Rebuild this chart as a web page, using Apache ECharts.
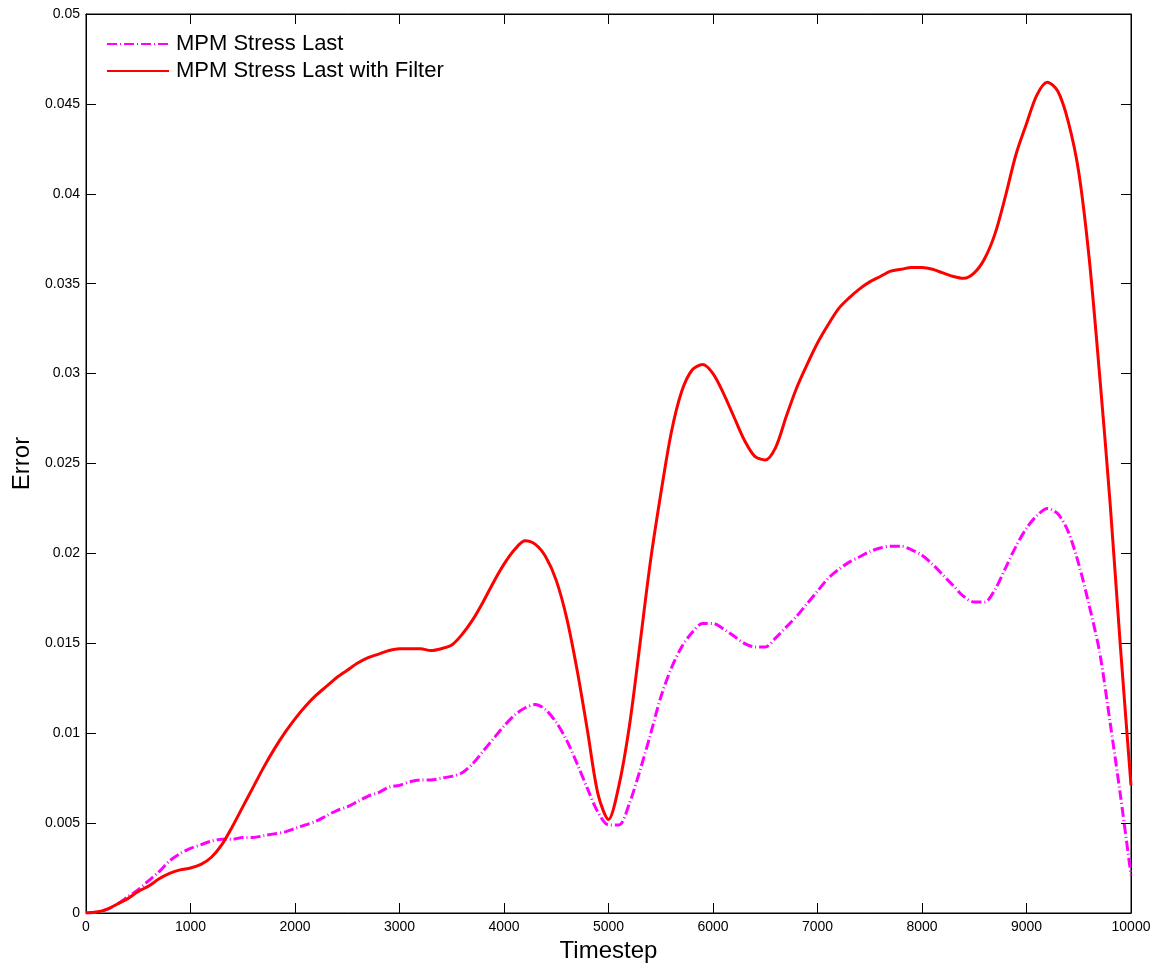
<!DOCTYPE html>
<html>
<head>
<meta charset="utf-8">
<script src="https://cdn.jsdelivr.net/npm/echarts@6/dist/echarts.min.js"></script>
<style>
html,body{margin:0;padding:0;background:#fff;}
#chart{width:1158px;height:968px;}
</style>
</head>
<body>
<div id="chart"></div>
<script>
const seriesNames = ["MPM Stress Last", "MPM Stress Last with Filter"];
const xTicks = [0,1000,2000,3000,4000,5000,6000,7000,8000,9000,10000];
const yTicks = [0,0.005,0.01,0.015,0.02,0.025,0.03,0.035,0.04,0.045,0.05];

const timesteps = [0,100,200,300,400,500,600,700,800,900,
  1000,1100,1200,1300,1400,1500,1600,1700,1800,1900,
  2000,2100,2200,2300,2400,2500,2600,2700,2800,2900,
  3000,3100,3200,3300,3400,3500,3600,3700,3800,3900,
  4000,4100,4200,4300,4400,4500,4600,4700,4800,4900,
  5000,5100,5200,5300,5400,5500,5600,5700,5800,5900,
  6000,6100,6200,6300,6400,6500,6600,6700,6800,6900,
  7000,7100,7200,7300,7400,7500,7600,7700,7800,7900,
  8000,8100,8200,8300,8400,8500,8600,8700,8800,8900,
  9000,9100,9200,9300,9400,9500,9600,9700,9800,9900,10000];

const stressLast = [0,0.00005,0.0002,0.0005,0.0009,0.0013,0.0018,0.0023,0.0029,0.0033,
  0.0036,0.0038,0.0040,0.0041,0.0041,0.0042,0.0042,0.0043,0.0044,0.0045,
  0.0047,0.0049,0.0051,0.0054,0.0057,0.0059,0.0062,0.0065,0.0067,0.0070,
  0.0071,0.0073,0.0074,0.0074,0.0075,0.0076,0.0078,0.0083,0.0090,0.0097,
  0.0104,0.0110,0.0114,0.0116,0.0113,0.0106,0.0096,0.0083,0.0069,0.0056,
  0.0049,0.0049,0.0061,0.0079,0.0099,0.0120,0.0136,0.0148,0.0156,0.0161,
  0.0161,0.0158,0.0154,0.0150,0.0148,0.0148,0.0153,0.0159,0.0165,0.0172,
  0.0179,0.0186,0.0191,0.0195,0.0198,0.0201,0.0203,0.0204,0.0204,0.0202,
  0.0199,0.0194,0.0188,0.0182,0.0176,0.0173,0.0173,0.0180,0.0192,0.0204,
  0.0214,0.0221,0.0225,0.0222,0.0212,0.0194,0.0171,0.0145,0.0106,0.0065,0.0021];

const stressLastFilter = [0,0.00005,0.0002,0.0005,0.0008,0.0012,0.0015,0.0019,0.0022,0.0024,
  0.0025,0.0027,0.0031,0.0038,0.0048,0.0059,0.0070,0.0081,0.0091,0.0100,
  0.0108,0.0115,0.0121,0.0126,0.0131,0.0135,0.0139,0.0142,0.0144,0.0146,
  0.0147,0.0147,0.0147,0.0146,0.0147,0.0149,0.0155,0.0163,0.0173,0.0184,
  0.0194,0.0202,0.0207,0.0205,0.0198,0.0185,0.0164,0.0135,0.0101,0.0066,
  0.0052,0.0071,0.0104,0.0149,0.0195,0.0233,0.0267,0.0290,0.0302,0.0305,
  0.0300,0.0289,0.0276,0.0263,0.0254,0.0252,0.0259,0.0276,0.0292,0.0305,
  0.0317,0.0327,0.0336,0.0342,0.0347,0.0351,0.0354,0.0357,0.0358,0.0359,
  0.0359,0.0358,0.0356,0.0354,0.0353,0.0356,0.0364,0.0378,0.0399,0.0422,
  0.0439,0.0455,0.0462,0.0457,0.0440,0.0412,0.0364,0.0299,0.0228,0.0147,0.0071];

function pairs(t, v){ return t.map((x,i)=>[x, v[i]]); }

const FONT = '"Liberation Sans", Arial, Helvetica, sans-serif';
const chart = echarts.init(document.getElementById('chart'));

const tickCommon = {inside:true, length:10, lineStyle:{color:'#000', width:1}};

chart.setOption({
  animation:false,
  backgroundColor:'#fff',
  grid:{left:86, right:27, top:14, bottom:55, show:true, borderColor:'#000', borderWidth:1,
    containLabel:false, outerBoundsMode:'none'},
  legend:{
    orient:'vertical', left:106, top:33, itemWidth:62, itemHeight:14, itemGap:5, padding:0,
    itemStyle:{opacity:0},
    textStyle:{fontFamily:FONT, fontSize:22, color:'#000', padding:[0,0,0,2]},
    data:seriesNames
  },
  xAxis:[{
    type:'value', min:0, max:10000, interval:1000,
    name:'Timestep', nameLocation:'middle', nameGap:25,
    nameTextStyle:{fontFamily:FONT, fontSize:24, color:'#000'},
    axisLine:{show:true, onZero:false, lineStyle:{color:'#000', width:1}},
    axisTick:tickCommon,
    axisLabel:{fontFamily:FONT, fontSize:14, color:'#000', margin:7,
      formatter:(v)=>String(v)},
    splitLine:{show:false}
  },{
    type:'value', min:0, max:10000, interval:1000, position:'top',
    axisLine:{show:true, onZero:false, lineStyle:{color:'#000'}},
    axisTick:tickCommon, axisLabel:{show:false}, splitLine:{show:false}
  }],
  yAxis:[{
    type:'value', min:0, max:0.05, interval:0.005,
    name:'Error', nameLocation:'middle', nameGap:50,
    nameTextStyle:{fontFamily:FONT, fontSize:24, color:'#000'},
    axisLine:{show:true, onZero:false, lineStyle:{color:'#000', width:1}},
    axisTick:tickCommon,
    axisLabel:{fontFamily:FONT, fontSize:14, color:'#000', margin:6,
      formatter:(v)=>String(+v.toFixed(4))},
    splitLine:{show:false}
  },{
    type:'value', min:0, max:0.05, interval:0.005, position:'right',
    axisLine:{show:true, onZero:false, lineStyle:{color:'#000'}},
    axisTick:tickCommon, axisLabel:{show:false}, splitLine:{show:false}
  }],
  series:[{
    name:seriesNames[0], type:'line', xAxisIndex:0, yAxisIndex:0,
    data:pairs(timesteps, stressLast), symbol:'none', smooth:0.3,
    lineStyle:{color:'#ff00ff', width:3, type:[10,3,1,3]},
    itemStyle:{color:'#ff00ff'}, z:2
  },{
    name:seriesNames[1], type:'line', xAxisIndex:0, yAxisIndex:0,
    data:pairs(timesteps, stressLastFilter), symbol:'none', smooth:0.3,
    lineStyle:{color:'#ff0000', width:3, type:'solid'},
    itemStyle:{color:'#ff0000'}, z:3
  }]
});
</script>
</body>
</html>
